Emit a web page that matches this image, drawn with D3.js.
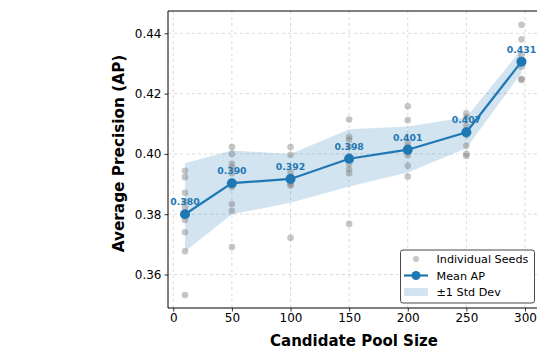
<!DOCTYPE html>
<html><head><meta charset="utf-8">
<script src="https://cdn.jsdelivr.net/npm/d3@7"></script>
<style>body{margin:0;background:#fff;} svg{display:block;font-family:"DejaVu Sans",sans-serif;}</style>
</head><body><div id="chart"></div>
<script>
const poolSizes = [10, 50, 100, 150, 200, 250, 297];
const meanAP = [0.3800, 0.3903, 0.3917, 0.3984, 0.4014, 0.4072, 0.4306];
const bandLow = [0.3676, 0.3800, 0.3838, 0.3892, 0.3938, 0.4019, 0.4269];
const bandHigh = [0.3969, 0.4011, 0.4000, 0.4082, 0.4091, 0.4122, 0.4347];
const seedValues = [
  [0.3944, 0.3923, 0.3871, 0.3843, 0.3823, 0.3800, 0.3781, 0.3740, 0.3677, 0.3532],
  [0.4023, 0.4000, 0.3967, 0.3956, 0.3936, 0.3905, 0.3890, 0.3834, 0.3811, 0.3691],
  [0.4023, 0.3997, 0.3939, 0.3925, 0.3917, 0.3908, 0.3900, 0.3895, 0.3722],
  [0.4114, 0.4056, 0.4047, 0.4024, 0.3993, 0.3982, 0.3967, 0.3949, 0.3936, 0.3768],
  [0.4158, 0.4112, 0.4037, 0.4024, 0.4011, 0.4005, 0.3996, 0.3961, 0.3925],
  [0.4135, 0.4122, 0.4094, 0.4077, 0.4063, 0.4027, 0.4000, 0.3993],
  [0.4428, 0.4380, 0.4330, 0.4306, 0.4289, 0.4249, 0.4245]
];
const xTicks = [0, 50, 100, 150, 200, 250, 300];
const yTicks = [0.36, 0.38, 0.40, 0.42, 0.44];
const legendLabels = ["Individual Seeds", "Mean AP", "±1 Std Dev"];
const xLabel = "Candidate Pool Size";
const yLabel = "Average Precision (AP)";

(function () {
const W = 537, H = 349;
const blue = "#1f77b4";
const svg = d3.select("#chart").append("svg").attr("width", W).attr("height", H);
const pL = 168, pR = 542, pT = 11, pB = 308;
const x = d3.scaleLinear().domain([-4.5, 314.5]).range([pL, pR]);
const y = d3.scaleLinear().domain([0.3489, 0.4474]).range([pB, pT]);

// grid
const grid = svg.append("g");
grid.selectAll(".vg").data(xTicks).join("line")
  .attr("x1", d => x(d)).attr("x2", d => x(d)).attr("y1", pT).attr("y2", pB)
  .attr("stroke", "#b0b0b0").attr("stroke-opacity", 0.6).attr("stroke-width", 0.8).attr("stroke-dasharray", "3,3");
grid.selectAll(".hg").data(yTicks).join("line")
  .attr("x1", pL).attr("x2", pR).attr("y1", d => y(d)).attr("y2", d => y(d))
  .attr("stroke", "#b0b0b0").attr("stroke-opacity", 0.6).attr("stroke-width", 0.8).attr("stroke-dasharray", "3,3");

// band
const idx = d3.range(poolSizes.length);
svg.append("path").datum(idx)
  .attr("d", d3.area().x(i => x(poolSizes[i])).y0(i => y(bandLow[i])).y1(i => y(bandHigh[i])))
  .attr("fill", blue).attr("fill-opacity", 0.2);

// seeds
const pts = [];
seedValues.forEach((arr, i) => arr.forEach(v => pts.push([poolSizes[i], v])));
svg.append("g").selectAll("circle").data(pts).join("circle")
  .attr("cx", d => x(d[0])).attr("cy", d => y(d[1])).attr("r", 3.3)
  .attr("fill", "#808080").attr("fill-opacity", 0.45);

// mean line
svg.append("path").datum(idx)
  .attr("d", d3.line().x(i => x(poolSizes[i])).y(i => y(meanAP[i])))
  .attr("fill", "none").attr("stroke", blue).attr("stroke-width", 2.2);
svg.append("g").selectAll("circle").data(idx).join("circle")
  .attr("cx", i => x(poolSizes[i])).attr("cy", i => y(meanAP[i])).attr("r", 5).attr("fill", blue);
svg.append("g").selectAll("text").data(idx).join("text")
  .attr("x", i => x(poolSizes[i])).attr("y", i => y(meanAP[i]) - 9)
  .attr("text-anchor", "middle").attr("font-size", 9.3).attr("font-weight", "bold").attr("fill", blue)
  .text(i => meanAP[i].toFixed(3));

// axes
const xAxis = svg.append("g").attr("transform", `translate(0,${pB})`)
  .call(d3.axisBottom(x).tickValues(xTicks).tickSize(3.5).tickPadding(2).tickFormat(d3.format("d")));
const yAxis = svg.append("g").attr("transform", `translate(${pL},0)`)
  .call(d3.axisLeft(y).tickValues(yTicks).tickSize(3.5).tickPadding(3).tickFormat(d3.format(".2f")));
[xAxis, yAxis].forEach(g => {
  g.selectAll("text").attr("font-size", 12).attr("fill", "#000").attr("font-family", "DejaVu Sans");
  g.selectAll("line").attr("stroke", "#000").attr("stroke-width", 0.8);
  g.select(".domain").remove();
});
// spines
svg.append("line").attr("x1", pL).attr("x2", pL).attr("y1", pT).attr("y2", pB).attr("stroke", "#000").attr("stroke-width", 1);
svg.append("line").attr("x1", pL).attr("x2", pR).attr("y1", pB).attr("y2", pB).attr("stroke", "#000").attr("stroke-width", 1);
svg.append("line").attr("x1", pL).attr("x2", pR).attr("y1", pT).attr("y2", pT).attr("stroke", "#000").attr("stroke-width", 1);

// labels
svg.append("text").attr("x", 354).attr("y", 346).attr("text-anchor", "middle")
  .attr("font-size", 15).attr("font-weight", "bold").text(xLabel);
svg.append("text").attr("transform", `translate(123.5,${(pT + pB) / 2 - 6}) rotate(-90)`).attr("text-anchor", "middle")
  .attr("font-size", 15.3).attr("font-weight", "bold").text(yLabel);

// legend
const lg = svg.append("g");
lg.append("rect").attr("x", 400.5).attr("y", 250).attr("width", 134).attr("height", 53).attr("rx", 2.5)
  .attr("fill", "#fff").attr("fill-opacity", 0.85).attr("stroke", "#333").attr("stroke-width", 0.9);
const rows = [259, 275.5, 292];
lg.append("circle").attr("cx", 416).attr("cy", rows[0]).attr("r", 3).attr("fill", "#808080").attr("fill-opacity", 0.45);
lg.append("line").attr("x1", 404).attr("x2", 428).attr("y1", rows[1]).attr("y2", rows[1]).attr("stroke", blue).attr("stroke-width", 2.2);
lg.append("circle").attr("cx", 416).attr("cy", rows[1]).attr("r", 4.5).attr("fill", blue);
lg.append("rect").attr("x", 404).attr("y", rows[2] - 4).attr("width", 24).attr("height", 8).attr("fill", blue).attr("fill-opacity", 0.2);
lg.selectAll("text").data(legendLabels).join("text")
  .attr("x", 436.5).attr("y", (d, i) => rows[i] + 4).attr("font-size", 11.2).text(d => d);
})();
</script></body></html>
